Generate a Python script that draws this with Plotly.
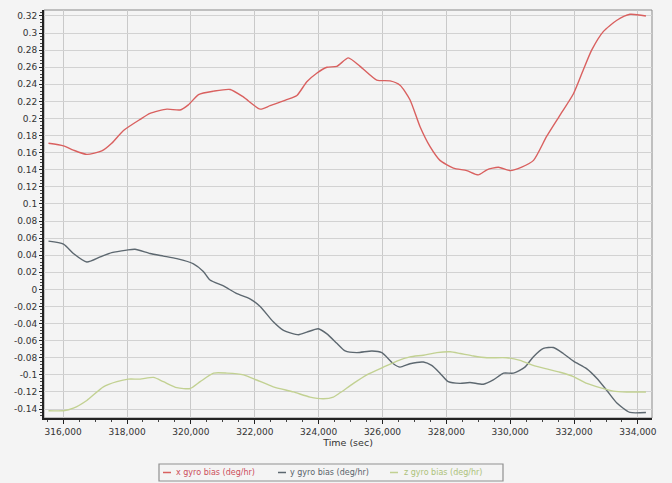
import plotly.graph_objects as go

x_time = [315540, 316010, 316320, 316740, 317210, 317520, 317890, 318410, 318720, 319250, 319660, 319920,
          320240, 320710, 321230, 321650, 322170, 322480, 323000, 323320, 323630, 323940, 324260, 324570,
          324930, 325300, 325820, 326240, 326550, 326860, 327180, 327490, 327800, 328220, 328640, 329000,
          329270, 329630, 330000, 330360, 330730, 331140, 331560, 331980, 332290, 332550, 332920, 333340,
          333750, 334250]
x_bias = [0.171, 0.168, 0.163, 0.158, 0.162, 0.171, 0.186, 0.199, 0.206, 0.211, 0.210, 0.216,
          0.228, 0.232, 0.234, 0.225, 0.211, 0.215, 0.222, 0.227, 0.243, 0.253, 0.260, 0.261,
          0.271, 0.261, 0.245, 0.244, 0.239, 0.222, 0.190, 0.167, 0.151, 0.142, 0.139, 0.134,
          0.140, 0.143, 0.139, 0.143, 0.151, 0.179, 0.204, 0.229, 0.257, 0.280, 0.302, 0.315,
          0.322, 0.320]

y_time = [315540, 316010, 316320, 316740, 317160, 317520, 317990, 318250, 318720, 319140, 319560, 320080,
          320390, 320600, 321020, 321440, 321850, 322170, 322580, 322900, 323370, 323630, 323990, 324260,
          324570, 324830, 325195, 325670, 325980, 326340, 326550, 326860, 327280, 327540, 327800, 328060,
          328430, 328740, 329160, 329470, 329790, 330100, 330460, 330720, 331040, 331350, 331660, 331980,
          332400, 332710, 333020, 333340, 333750, 334250]
y_bias = [0.0565, 0.053, 0.042, 0.032, 0.038, 0.043, 0.046, 0.047, 0.042, 0.039, 0.036, 0.030,
          0.021, 0.011, 0.004, -0.005, -0.011, -0.020, -0.038, -0.048, -0.053, -0.050, -0.046, -0.052,
          -0.063, -0.072, -0.074, -0.072, -0.074, -0.087, -0.091, -0.087, -0.085, -0.089, -0.098, -0.108,
          -0.110, -0.109, -0.111, -0.106, -0.098, -0.098, -0.091, -0.079, -0.069, -0.068, -0.075, -0.084,
          -0.093, -0.104, -0.118, -0.133, -0.144, -0.144]

z_time = [315540, 316010, 316320, 316740, 317260, 317680, 318040, 318410, 318830, 319140, 319560, 319980,
          320290, 320710, 321130, 321650, 322060, 322580, 323210, 323730, 324150, 324460, 324670, 325090,
          325510, 326030, 326450, 326860, 327280, 327700, 328120, 328430, 328850, 329270, 329890, 330310,
          330720, 331140, 331560, 331980, 332400, 332810, 333230, 333650, 334250]
z_bias = [-0.142, -0.142, -0.139, -0.130, -0.114, -0.108, -0.105, -0.105, -0.103, -0.108, -0.115, -0.116,
          -0.108, -0.098, -0.098, -0.100, -0.106, -0.114, -0.120, -0.126, -0.128, -0.126, -0.121, -0.110,
          -0.100, -0.091, -0.084, -0.079, -0.077, -0.074, -0.073, -0.075, -0.078, -0.080, -0.080, -0.083,
          -0.089, -0.093, -0.097, -0.102, -0.110, -0.115, -0.119, -0.120, -0.120]

series_names = ["x gyro bias (deg/hr)", "y gyro bias (deg/hr)", "z gyro bias (deg/hr)"]
colors = ["#d9605f", "#5d6870", "#c2d192"]
text_colors = ["#cc4f5c", "#59636b", "#adc27a"]

x_ticks = [316000, 318000, 320000, 322000, 324000, 326000, 328000, 330000, 332000, 334000]
x_tick_labels = ["316,000", "318,000", "320,000", "322,000", "324,000", "326,000", "328,000",
                 "330,000", "332,000", "334,000"]
y_ticks = [round(-0.14 + 0.02 * i, 2) for i in range(24)]
y_tick_labels = [("%g" % v) for v in y_ticks]

BG = "#f4f4f4"
# The page body has an 8px margin, so the figure is placed at (8, 8) in the window.
OFF = 8
W, H = 672 - OFF, 483 - OFF
ML, MR, MT, MB = 44 - OFF, 20, 10 - OFF, 65
PW, PH = W - ML - MR, H - MT - MB


def px2paper_x(px):
    return (px - OFF - ML) / PW


def px2paper_y(py):
    return (H - MB - (py - OFF)) / PH


fig = go.Figure()
for t, v, n, c in zip([x_time, y_time, z_time], [x_bias, y_bias, z_bias], series_names, colors):
    fig.add_trace(go.Scatter(
        x=t, y=v, mode="lines", line=dict(color=c, width=1.4, shape="spline", smoothing=0.6),
        name=n, showlegend=False,
    ))

fig.update_layout(
    width=W, height=H,
    margin=dict(l=ML, r=MR, t=MT, b=MB),
    paper_bgcolor=BG,
    plot_bgcolor=BG,
    font=dict(family="DejaVu Sans", size=9, color="#333333"),
    showlegend=False,
)
fig.update_xaxes(
    range=[315400, 334440], automargin=False,
    tickvals=x_ticks, ticktext=x_tick_labels,
    showgrid=True, gridcolor="#c9c9c9", gridwidth=1,
    showline=True, linecolor="#222222", linewidth=2, mirror=False,
    ticks="outside", ticklen=4, tickcolor="#222222",
    minor=dict(ticks="outside", ticklen=2, tickcolor="#444444", dtick=500, showgrid=False),
    zeroline=False,
    title=dict(text="Time (sec)", font=dict(size=9.5), standoff=0),
    tickfont=dict(size=9),
)
fig.update_yaxes(
    range=[-0.1505, 0.327], automargin=False,
    tickvals=y_ticks, ticktext=y_tick_labels,
    showgrid=True, gridcolor="#d2d2d2", gridwidth=1,
    showline=True, linecolor="#222222", linewidth=2,
    ticks="outside", ticklen=3, tickcolor="#222222",
    minor=dict(ticks="outside", ticklen=2, tickcolor="#444444", dtick=0.004, showgrid=False),
    zeroline=False,
    tickfont=dict(size=9),
)
# thin border around plotting area
fig.add_shape(type="rect", xref="paper", yref="paper", x0=0, y0=0, x1=1, y1=1,
              line=dict(color="#8a8a8a", width=1), layer="below")

# legend box drawn below the plot
fig.add_shape(type="rect", xref="paper", yref="paper",
              x0=px2paper_x(159), x1=px2paper_x(503), y0=px2paper_y(481), y1=px2paper_y(464),
              line=dict(color="#8f8f8f", width=1.2), fillcolor=BG)
legend_dash_x = [163, 278, 390]
legend_text_x = [174, 288, 402]
ly = 472.5
for dx, tx, n, c, tc in zip(legend_dash_x, legend_text_x, series_names, colors, text_colors):
    fig.add_shape(type="line", xref="paper", yref="paper",
                  x0=px2paper_x(dx), x1=px2paper_x(dx + 8), y0=px2paper_y(ly), y1=px2paper_y(ly),
                  line=dict(color=c, width=1.5))
    fig.add_annotation(xref="paper", yref="paper", x=px2paper_x(tx), y=px2paper_y(ly),
                       xanchor="left", yanchor="middle", showarrow=False,
                       text=n, font=dict(size=8, color=tc))

fig.write_html("out.html",
               post_script="document.body.style.backgroundColor='%s';" % BG)
